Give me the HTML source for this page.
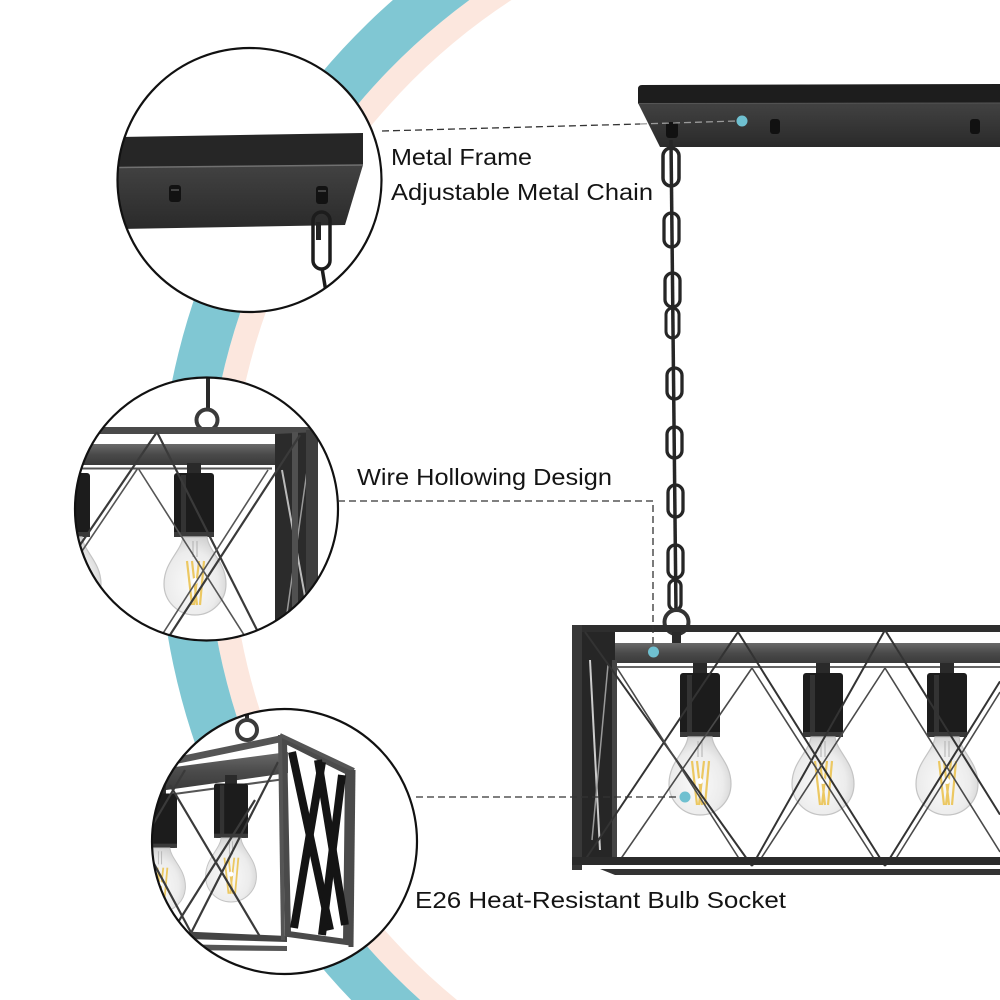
<!DOCTYPE html>
<html><head><meta charset="utf-8"><style>
html,body{margin:0;padding:0;background:#fff;width:1000px;height:1000px;overflow:hidden;}
svg{display:block;position:absolute;left:0;top:0;}
text{font-family:"Liberation Sans",Arial,sans-serif;fill:#141414;}
</style></head><body>
<svg width="1000" height="1000" viewBox="0 0 1000 1000" xmlns="http://www.w3.org/2000/svg">
<defs>
 <clipPath id="c1"><circle cx="249.5" cy="180" r="132"/></clipPath>
 <clipPath id="c2"><circle cx="206.5" cy="509" r="131.5"/></clipPath>
 <clipPath id="c3"><circle cx="284.5" cy="841.5" r="132.5"/></clipPath>
 <linearGradient id="pf" x1="0" y1="0" x2="0" y2="1"><stop offset="0" stop-color="#424242"/><stop offset="1" stop-color="#2a2a2a"/></linearGradient>
 <linearGradient id="beam" x1="0" y1="0" x2="0" y2="1"><stop offset="0" stop-color="#6a6a6a"/><stop offset="0.5" stop-color="#4a4a4a"/><stop offset="1" stop-color="#3a3a3a"/></linearGradient>
 <radialGradient id="bulb" cx="0.45" cy="0.6" r="0.6"><stop offset="0" stop-color="#fafafa"/><stop offset="0.7" stop-color="#ececec"/><stop offset="1" stop-color="#d4d4d4"/></radialGradient>
 <g id="bulbS">
  <path d="M-12,0 L12,0 C14,15 31,25 31,47 A31,31 0 0 1 -31,47 C-31,25 -14,15 -12,0 Z" fill="url(#bulb)" stroke="#c4c4c4" stroke-width="1.2"/>
  <path d="M-2,4 L-2,20 M2,4 L2,20" stroke="#b0b0b0" stroke-width="1"/>
  <path d="M-8,24 L-3,68 M-3,24 L2,68 M4,24 L-1,68 M9,24 L5,68" stroke="#ecc862" stroke-width="2.2"/>
  <circle cx="0" cy="44" r="3" fill="#fff"/>
 </g>
 <g id="sock">
  <rect x="-7" y="0" width="14" height="10" fill="#2a2a2a"/>
  <rect x="-20" y="10" width="40" height="64" rx="3" fill="#1c1c1c"/>
  <rect x="-13" y="12" width="5" height="58" fill="#333"/>
  <rect x="-20" y="69" width="40" height="5" fill="#3a3a3a"/>
 </g>
</defs>

<!-- background arcs -->
<path d="M469.4,0 A645,645 0 0 0 420.2,1000 L457,1000 A621,621 0 0 1 511.5,0 Z" fill="#fce7de"/>
<path d="M392.9,0 A693,693 0 0 0 351.2,1000 L420.2,1000 A645,645 0 0 1 469.4,0 Z" fill="#80c7d3"/>

<!-- ===== Circle 1 ===== -->
<circle cx="249.5" cy="180" r="132" fill="#fff"/>
<g clip-path="url(#c1)">
 <polygon points="118,137 363,133 363,165 118,168" fill="#262626"/>
 <polygon points="118,168 363,165 345,225 118,229" fill="url(#pf)"/>
 <line x1="118" y1="167.5" x2="363" y2="165" stroke="#707070" stroke-width="1.5"/>
 <rect x="169" y="185" width="12" height="17" rx="3" fill="#121212"/>
 <rect x="171" y="189" width="8" height="2" fill="#444"/>
 <rect x="316" y="186" width="12" height="18" rx="3" fill="#121212"/>
 <rect x="318" y="190" width="8" height="2" fill="#444"/>
 <rect x="313" y="212" width="17" height="57" rx="8.5" fill="none" stroke="#1c1c1c" stroke-width="3.5"/>
 <rect x="316" y="222" width="5" height="18" fill="#222"/>
 <line x1="322" y1="268" x2="327" y2="298" stroke="#1c1c1c" stroke-width="3.5"/>
</g>
<circle cx="249.5" cy="180" r="132" fill="none" stroke="#111" stroke-width="2.2"/>

<!-- ===== Circle 2 ===== -->
<circle cx="206.5" cy="509" r="131.5" fill="#fff"/>
<g clip-path="url(#c2)">
 <line x1="208" y1="378" x2="208" y2="410" stroke="#2a2a2a" stroke-width="4"/>
 <circle cx="207" cy="420" r="10.5" fill="none" stroke="#3a3a3a" stroke-width="4"/>
 <rect x="75" y="427" width="243" height="7" fill="#4a4a4a"/>
 <rect x="75" y="444" width="220" height="21" fill="url(#beam)"/>
 <line x1="75" y1="468.5" x2="272" y2="468.5" stroke="#555" stroke-width="2"/>
 <polygon points="275,434 318,432 318,640 275,640" fill="#2b2b2b"/>
 <line x1="282" y1="470" x2="312" y2="635" stroke="#bbb" stroke-width="2"/>
 <line x1="310" y1="450" x2="286" y2="620" stroke="#999" stroke-width="1.5"/>
 <rect x="292" y="432" width="6" height="208" fill="#505050"/>
 <rect x="306" y="430" width="12" height="210" fill="#3e3e3e"/>
 <g transform="translate(194,463)"><use href="#sock"/></g>
 <g transform="translate(195,537)"><use href="#bulbS"/></g>
 <g transform="translate(70,463)"><use href="#sock"/></g>
 <g transform="translate(70,537)"><use href="#bulbS"/></g>
 <g stroke="#3a3a3a" stroke-width="2.2" fill="none">
  <line x1="157" y1="432" x2="80" y2="545"/>
  <line x1="157" y1="432" x2="258" y2="632"/>
  <line x1="300" y1="435" x2="168" y2="638"/>
  <line x1="80" y1="600" x2="108" y2="640"/>
 </g>
 <g stroke="#555" stroke-width="1.6" fill="none">
  <line x1="138" y1="468" x2="76" y2="560"/>
  <line x1="138" y1="468" x2="246" y2="638"/>
  <line x1="268" y1="470" x2="160" y2="638"/>
  <line x1="76" y1="585" x2="108" y2="638"/>
 </g>
</g>
<circle cx="206.5" cy="509" r="131.5" fill="none" stroke="#111" stroke-width="2.2"/>

<!-- ===== Circle 3 ===== -->
<circle cx="284.5" cy="841.5" r="132.5" fill="#fff"/>
<g clip-path="url(#c3)">
 <line x1="247" y1="710" x2="247" y2="720" stroke="#2a2a2a" stroke-width="4"/>
 <circle cx="247" cy="730" r="10" fill="none" stroke="#3a3a3a" stroke-width="4"/>
 <polygon points="152,762 282,735 282,742 152,769" fill="#555"/>
 <polygon points="152,770 288,752 288,773 152,792" fill="url(#beam)"/>
 <line x1="152" y1="797" x2="285" y2="779" stroke="#555" stroke-width="2"/>
 <g transform="translate(231,775)"><use href="#sock" transform="scale(0.85)"/></g>
 <g transform="translate(231,838)"><use href="#bulbS" transform="scale(0.82)"/></g>
 <g transform="translate(160,785)"><use href="#sock" transform="scale(0.85)"/></g>
 <g transform="translate(160,848)"><use href="#bulbS" transform="scale(0.82)"/></g>
 <g stroke="#3a3a3a" stroke-width="2.2" fill="none">
  <line x1="170" y1="785" x2="262" y2="940"/>
  <line x1="278" y1="762" x2="190" y2="935"/>
  <line x1="152" y1="860" x2="195" y2="940"/>
  <line x1="255" y1="800" x2="170" y2="935"/>
  <line x1="185" y1="770" x2="152" y2="826"/>
 </g>
 <polygon points="152,930 287,936 287,942 152,938" fill="#444"/>
 <polygon points="165,944 287,946 287,951 165,950" fill="#555"/>
 <polygon points="284,740 348,772 346,942 288,934" fill="none" stroke="#4a4a4a" stroke-width="6"/>
 <g stroke="#141414" stroke-width="8" fill="none">
  <line x1="292" y1="752" x2="330" y2="930"/>
  <line x1="322" y1="762" x2="294" y2="928"/>
  <line x1="318" y1="760" x2="345" y2="925"/>
  <line x1="342" y1="775" x2="322" y2="935"/>
 </g>
 <line x1="280" y1="735" x2="283" y2="940" stroke="#555" stroke-width="4"/>
 <line x1="280" y1="735" x2="354" y2="770" stroke="#555" stroke-width="4"/>
 <line x1="353" y1="770" x2="351" y2="947" stroke="#4a4a4a" stroke-width="5"/>
</g>
<circle cx="284.5" cy="841.5" r="132.5" fill="none" stroke="#111" stroke-width="2.2"/>

<!-- ===== Main: ceiling plate ===== -->
<path d="M642,85 L1000,84 L1000,103 L638,103 L638,89 Q638,85 642,85 Z" fill="#1d1d1d"/>
<polygon points="638,103 1000,103 1000,147 660,147" fill="url(#pf)"/>
<line x1="638" y1="103.5" x2="1000" y2="103" stroke="#555" stroke-width="1"/>
<rect x="770" y="119" width="10" height="15" rx="3" fill="#111"/>
<rect x="970" y="119" width="10" height="15" rx="3" fill="#111"/>
<rect x="666" y="122" width="12" height="16" rx="3" fill="#111"/>

<!-- chain -->
<g stroke="#262626" fill="none">
 <line x1="671" y1="140" x2="676" y2="612" stroke-width="3.5"/>
 <rect x="663" y="148" width="16" height="38" rx="8" stroke-width="3.5"/>
 <rect x="664" y="213" width="15" height="34" rx="7.5" stroke-width="3.3"/>
 <rect x="665" y="273" width="15" height="34" rx="7.5" stroke-width="3.3"/>
 <rect x="666" y="308" width="13" height="30" rx="6.5" stroke-width="3"/>
 <rect x="667" y="368" width="15" height="31" rx="7.5" stroke-width="3.3"/>
 <rect x="667" y="427" width="15" height="31" rx="7.5" stroke-width="3.3"/>
 <rect x="668" y="485" width="15" height="32" rx="7.5" stroke-width="3.3"/>
 <rect x="668" y="545" width="15" height="33" rx="7.5" stroke-width="3.3"/>
 <rect x="669" y="580" width="12" height="30" rx="6" stroke-width="3.3"/>
 <circle cx="676.5" cy="622" r="12" stroke="#333" stroke-width="4"/>
</g>
<rect x="672" y="630" width="9" height="14" fill="#2a2a2a"/>

<!-- ===== Main lamp ===== -->
<rect x="572" y="625" width="428" height="7" fill="#2e2e2e"/>
<rect x="590" y="643" width="410" height="20" fill="url(#beam)"/>
<line x1="617" y1="667" x2="1000" y2="667" stroke="#666" stroke-width="2"/>
<rect x="582" y="632" width="33" height="230" fill="#262626"/>
<line x1="590" y1="660" x2="600" y2="850" stroke="#ccc" stroke-width="2"/>
<line x1="608" y1="665" x2="592" y2="840" stroke="#999" stroke-width="1.5"/>
<rect x="572" y="625" width="10" height="245" fill="#383838"/>
<rect x="612" y="660" width="5" height="205" fill="#444"/>
<g transform="translate(700,663)"><use href="#sock"/></g>
<g transform="translate(823,663)"><use href="#sock"/></g>
<g transform="translate(947,663)"><use href="#sock"/></g>
<g transform="translate(700,737)"><use href="#bulbS"/></g>
<g transform="translate(823,737)"><use href="#bulbS"/></g>
<g transform="translate(947,737)"><use href="#bulbS"/></g>
<g stroke="#333" stroke-width="2" fill="none">
 <line x1="585" y1="632" x2="752" y2="866"/>
 <line x1="738" y1="632" x2="885" y2="866"/>
 <line x1="885" y1="630" x2="1000" y2="814.6"/>
 <line x1="738" y1="632" x2="585" y2="860"/>
 <line x1="885" y1="630" x2="752" y2="866"/>
 <line x1="1000" y1="681.4" x2="885" y2="866"/>
</g>
<g stroke="#4a4a4a" stroke-width="1.6" fill="none">
 <line x1="617" y1="668" x2="740" y2="860"/>
 <line x1="752" y1="668" x2="875" y2="860"/>
 <line x1="885" y1="668" x2="1000" y2="852"/>
 <line x1="752" y1="668" x2="620" y2="860"/>
 <line x1="885" y1="668" x2="760" y2="860"/>
 <line x1="1000" y1="692" x2="895" y2="860"/>
</g>
<rect x="572" y="857" width="428" height="8" fill="#2b2b2b"/>
<polygon points="600,869 1000,869 1000,875 615,875" fill="#333"/>

<!-- dashed leaders -->
<g stroke="#333" stroke-width="1.3" stroke-dasharray="7,4" fill="none">
 <line x1="382" y1="131" x2="640" y2="124"/>
 <polyline points="338,501 653,501 653,646"/>
 <line x1="416" y1="797" x2="680" y2="797"/>
</g>
<line x1="640" y1="124" x2="737" y2="121" stroke="#9a9a9a" stroke-width="1.3" stroke-dasharray="7,4"/>
<circle cx="742" cy="121" r="5.5" fill="#6fc0d0"/>
<circle cx="653.5" cy="652" r="5.5" fill="#6fc0d0"/>
<circle cx="685" cy="797" r="5.5" fill="#6fc0d0"/>

<!-- labels -->
<text x="391" y="165" font-size="23" textLength="141" lengthAdjust="spacingAndGlyphs">Metal Frame</text>
<text x="391" y="200" font-size="23" textLength="262" lengthAdjust="spacingAndGlyphs">Adjustable Metal Chain</text>
<text x="357" y="485" font-size="23" textLength="255" lengthAdjust="spacingAndGlyphs">Wire Hollowing Design</text>
<text x="415" y="908" font-size="23" textLength="371" lengthAdjust="spacingAndGlyphs">E26 Heat-Resistant Bulb Socket</text>
</svg>
</body></html>
